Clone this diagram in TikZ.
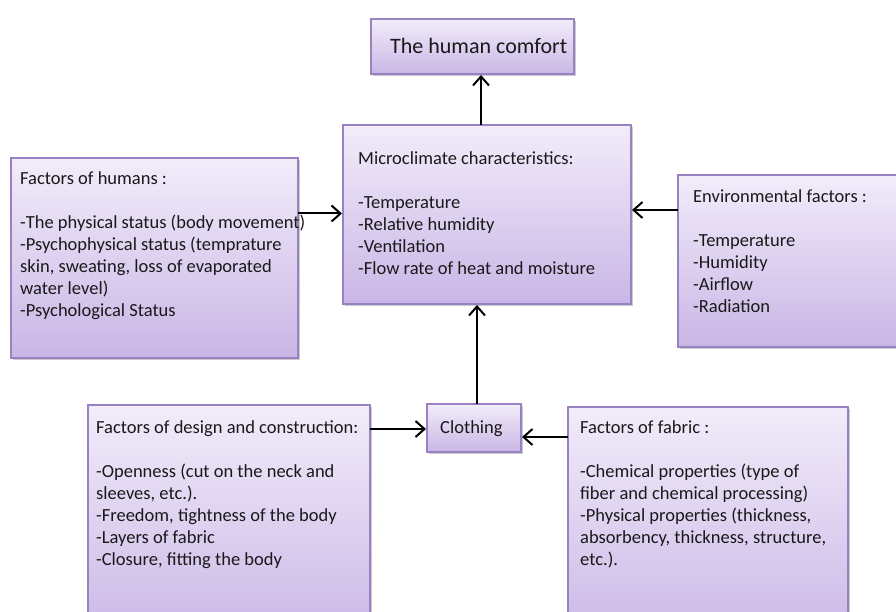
\documentclass[tikz,border=0pt]{standalone}
\usepackage{fontspec}
\setmainfont{Carlito}
\usetikzlibrary{shadows,arrows.meta,calc}
\definecolor{boxtop}{RGB}{242,236,250}
\definecolor{boxbot}{RGB}{201,182,230}
\definecolor{boxline}{RGB}{152,130,194}
\tikzset{
  box/.style={draw=boxline, line width=1.1pt, top color=boxtop, bottom color=boxbot,
    inner sep=0pt, outer sep=0pt, anchor=north west,
    drop shadow={shadow xshift=2pt, shadow yshift=-2pt, opacity=.35, fill=black!60}},
  txt/.style={anchor=north west, align=left, inner sep=0pt, text=black!90,
    font=\fontsize{18.5}{22}\selectfont},
  arr/.style={-{Straight Barb[length=9pt,width=16pt,line width=2pt]}, line width=2pt, black,
    shorten >=1pt}
}
\begin{document}
\begin{tikzpicture}[x=1pt,y=-1pt]
\useasboundingbox (0,0) rectangle (896,612);
\clip (0,0) rectangle (896,612);

% boxes
\node[box, minimum width=203pt, minimum height=55pt] (top) at (371,19) {};
\node[box, minimum width=288pt, minimum height=179pt] (mic) at (343,125) {};
\node[box, minimum width=287pt, minimum height=200pt] (hum) at (11,158) {};
\node[box, minimum width=240pt, minimum height=172pt] (env) at (678,175) {};
\node[box, minimum width=94pt, minimum height=48pt] (clo) at (427,404) {};
\node[box, minimum width=282pt, minimum height=240pt] (des) at (88,405) {};
\node[box, minimum width=280pt, minimum height=240pt] (fab) at (568,407) {};

% texts
\node[txt, font=\fontsize{22}{26}\selectfont] (topt) at (390,38.3) {The human comfort};
\node[txt] (mict) at (358,151.5) {Microclimate characteristics:\\[22pt]
-Temperature\\-Relative humidity\\-Ventilation\\-Flow rate of heat and moisture};
\node[txt] (humt) at (20,171.5) {Factors of humans :\\[22pt]
-The physical status (body movement)\\-Psychophysical status (temprature\\skin, sweating, loss of evaporated\\water level)\\-Psychological Status};
\node[txt] (envt) at (693,189.5) {Environmental factors :\\[22pt]
-Temperature\\-Humidity\\-Airflow\\-Radiation};
\node[txt] (clot) at (440,420.5) {Clothing};
\node[txt] (dest) at (96,420.5) {Factors of design and construction:\\[22pt]
-Openness (cut on the neck and\\sleeves, etc.).\\-Freedom, tightness of the body\\-Layers of fabric\\-Closure, fitting the body};
\node[txt] (fabt) at (580,420.5) {Factors of fabric :\\[22pt]
-Chemical properties (type of\\fiber and chemical processing)\\-Physical properties (thickness,\\absorbency, thickness, structure,\\etc.).};

% connectors
\draw[arr] ([xshift=-6pt]mic.north) -- ([xshift=-6pt]mic.north |- top.south);
\draw[arr] ([yshift=1pt]mic.west -| hum.east) -- ([yshift=1pt]mic.west);
\draw[arr] ([yshift=4.5pt]mic.east -| env.west) -- ([yshift=4.5pt]mic.east);
\draw[arr] ([xshift=3pt]clo.north) -- ([xshift=3pt]clo.north |- mic.south);
\draw[arr] ([yshift=-1pt]clo.west -| des.east) -- ([yshift=-1pt]clo.west);
\draw[arr] ([yshift=-9pt]clo.east -| fab.west) -- ([yshift=-9pt]clo.east);
\end{tikzpicture}
\end{document}
